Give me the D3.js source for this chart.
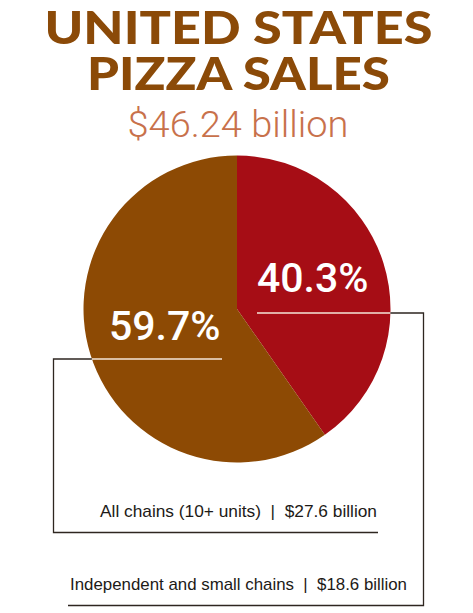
<!DOCTYPE html>
<html>
<head>
<meta charset="utf-8">
<script src="https://cdn.jsdelivr.net/npm/d3@7"></script>
<style>
html,body{margin:0;padding:0;background:#fff;}
svg{display:block;}
</style>
</head>
<body>
<svg id="chart" width="473" height="613"></svg>
<script>
const titleLines = ["UNITED STATES", "PIZZA SALES"];
const totalSales = 46.24;
const categories = ["Independent and small chains", "All chains (10+ units)"];
const shares = [40.3, 59.7];
const salesBillions = [18.6, 27.6];
const colors = ["#A60D15", "#8D4A04"];

const svg = d3.select("#chart");
const W = 473, H = 613;
const cx = 237, cy = 309, R = 153.5;

// Title
svg.selectAll("text.title").data(titleLines).join("text")
  .attr("class","title")
  .attr("x", W/2 + 2)
  .attr("y", (d,i) => 44 + i*46)
  .attr("text-anchor","middle")
  .attr("font-family","Lato, 'Open Sans', sans-serif")
  .attr("font-weight", 900)
  .attr("font-size", 46)
  .attr("fill", "#8B4A08")
  .attr("textLength", (d,i) => i === 0 ? 388 : 303)
  .attr("lengthAdjust","spacingAndGlyphs")
  .text(d => d);

svg.append("text")
  .attr("x", 238).attr("y", 137)
  .attr("text-anchor","middle")
  .attr("font-family","Roboto, 'Liberation Sans', sans-serif")
  .attr("font-weight", 300)
  .attr("font-size", 36)
  .attr("fill","#C8714B")
  .attr("textLength", 221)
  .attr("lengthAdjust","spacingAndGlyphs")
  .text("$" + totalSales.toFixed(2) + " billion");

// Pie
const pie = d3.pie().sort(null).value(d => d)(shares);
const arc = d3.arc().innerRadius(0).outerRadius(R);
const g = svg.append("g").attr("transform", `translate(${cx},${cy})`);
g.selectAll("path").data(pie).join("path")
  .attr("d", arc)
  .attr("fill", (d,i) => colors[i]);

// Percent labels
const labelPos = [
  {x: cx + 20, y: cy - 17, lineY: cy + 4},
  {x: cx - 128, y: cy + 31, lineY: cy + 50}
];
svg.selectAll("text.pct").data(shares).join("text")
  .attr("class","pct")
  .attr("x", (d,i) => labelPos[i].x)
  .attr("y", (d,i) => labelPos[i].y)
  .attr("font-family","Roboto, sans-serif")
  .attr("font-weight", 500)
  .attr("font-size", 41)
  .attr("fill","#fff")
  .text(d => d.toFixed(1) + "%");

// White underline inside pie
function edgeX(y, side){ const dy = y - cy; const dx = Math.sqrt(R*R - dy*dy); return side > 0 ? cx + dx : cx - dx; }
const y0 = labelPos[0].lineY, y1 = labelPos[1].lineY;
const ex0 = edgeX(y0, 1), ex1 = edgeX(y1, -1);
svg.append("line").attr("x1", cx + 20).attr("x2", ex0).attr("y1", y0).attr("y2", y0)
  .attr("stroke","#f4e6d8").attr("stroke-width",1.5);
svg.append("line").attr("x1", ex1).attr("x2", cx - 15).attr("y1", y1).attr("y2", y1)
  .attr("stroke","#f4e6d8").attr("stroke-width",1.5);

// Connectors
const conn = "#2e2620";
svg.append("path")
  .attr("d", `M${ex0},${y0} H423.5 V605.5 H68`)
  .attr("fill","none").attr("stroke", conn).attr("stroke-width",1.3);
svg.append("path")
  .attr("d", `M${ex1},${y1} H53.5 V532.5 H378`)
  .attr("fill","none").attr("stroke", conn).attr("stroke-width",1.3);

// Category labels
const catPos = [{x: 70, y: 590, w: 337}, {x: 100, y: 517, w: 277}];
svg.selectAll("text.cat").data(categories).join("text")
  .attr("class","cat")
  .attr("x", (d,i) => catPos[i].x)
  .attr("y", (d,i) => catPos[i].y)
  .attr("font-family","'Liberation Sans', Arial, sans-serif")
  .attr("font-size", 17)
  .attr("fill","#1d1a17")
  .attr("xml:space","preserve")
  .attr("textLength", (d,i) => catPos[i].w)
  .attr("lengthAdjust","spacingAndGlyphs")
  .text((d,i) => `${d}  |  $${salesBillions[i].toFixed(1)} billion`);
</script>
</body>
</html>
